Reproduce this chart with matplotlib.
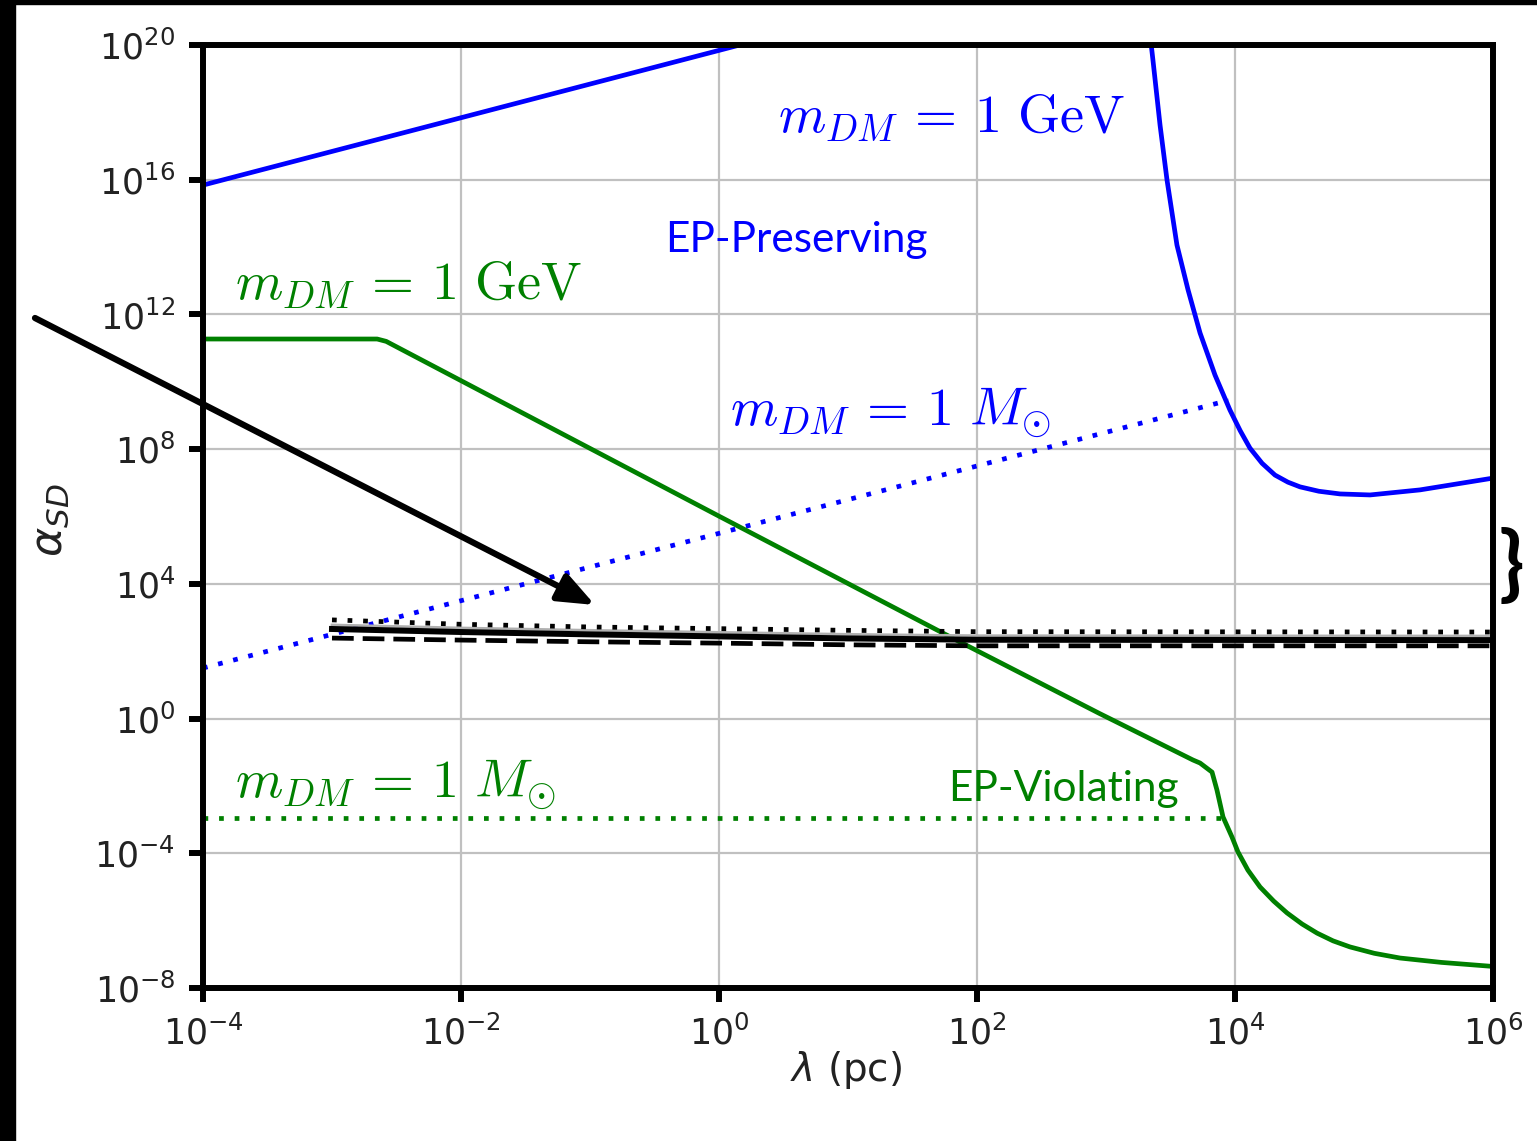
import numpy as np
import matplotlib.pyplot as plt
from matplotlib.patches import Rectangle

plt.rcParams['font.family'] = ['DejaVu Sans']
plt.rcParams['mathtext.fontset'] = 'dejavusans'

# all values are log10(lambda / pc) and log10(alpha_SD)
# EP-preserving, m_DM = 1 GeV (two branches)
pres_gev_lo_lam = [-4.0, -2.0, 0.3]
pres_gev_lo_alpha = [15.84, 17.84, 20.14]
pres_gev_hi_lam = [3.33, 3.364, 3.419, 3.473, 3.55, 3.636, 3.729, 3.845,
                   3.961, 4.04, 4.116, 4.21, 4.31, 4.41, 4.504, 4.65,
                   4.814, 5.047, 5.434, 6.0]
pres_gev_hi_alpha = [20.7, 19.55, 17.62, 15.99, 14.06, 12.73, 11.45, 10.2,
                     9.16, 8.55, 8.03, 7.58, 7.23, 7.02, 6.88, 6.75,
                     6.67, 6.64, 6.79, 7.14]
# EP-preserving, m_DM = 1 M_sun
pres_msun_lam = [-4.0, 3.95]
pres_msun_alpha = [1.5, 9.45]

# EP-violating, m_DM = 1 GeV
viol_gev_lam = [-4.0, -2.65, -2.58, 0.0, 1.85, 2.95, 3.674, 3.729, 3.822,
                3.86, 3.907, 3.977, 4.023, 4.1, 4.194, 4.3, 4.403, 4.52,
                4.636, 4.76, 4.891, 5.08, 5.279, 5.6, 6.0]
viol_gev_alpha = [11.27, 11.27, 11.2, 6.01, 2.31, 0.15, -1.23, -1.32, -1.59,
                  -2.12, -2.92, -3.52, -3.96, -4.5, -5.0, -5.42, -5.77,
                  -6.1, -6.37, -6.6, -6.78, -6.97, -7.11, -7.24, -7.36]
# EP-violating, m_DM = 1 M_sun
viol_msun_lam = [-4.0, 3.9]
viol_msun_alpha = [-2.95, -2.95]

# observational bounds (black)
bound_lam = [-3.0, -2.0, -1.0, 0.0, 1.0, 2.0, 6.0]
bound_dotted = [2.93, 2.80, 2.72, 2.67, 2.62, 2.58, 2.57]
bound_grey = [2.78, 2.69, 2.62, 2.56, 2.50, 2.46, 2.45]
bound_solid = [2.66, 2.57, 2.50, 2.44, 2.38, 2.34, 2.33]
bound_dashed = [2.39, 2.33, 2.28, 2.24, 2.19, 2.16, 2.16]

xtick_exp = [-4, -2, 0, 2, 4, 6]
ytick_exp = [-8, -4, 0, 4, 8, 12, 16, 20]

W, H = 1537, 1141


def pix(x, y):
    # image pixel (from top-left) -> figure fraction
    return x / W, 1 - y / H


def p10(v):
    return 10.0 ** np.asarray(v)


fig = plt.figure(figsize=(W / 100, H / 100), dpi=100)
ax = fig.add_axes([203 / W, 1 - 988 / H, (1493 - 203) / W, (988 - 45) / H])

blue = '#0000ff'
green = '#008000'
dots = (0, (1, 2.3))

ax.plot(p10(pres_gev_lo_lam), p10(pres_gev_lo_alpha), color=blue, lw=3.4)
ax.plot(p10(pres_gev_hi_lam), p10(pres_gev_hi_alpha), color=blue, lw=3.4)
ax.plot(p10(pres_msun_lam), p10(pres_msun_alpha), color=blue, lw=3.4,
        linestyle=dots)
ax.plot(p10(viol_gev_lam), p10(viol_gev_alpha), color=green, lw=3.4)
ax.plot(p10(viol_msun_lam), p10(viol_msun_alpha), color=green, lw=3.4,
        linestyle=dots)

ax.plot(p10(bound_lam), p10(bound_grey), color='#b0b0b0', lw=2)
ax.plot(p10(bound_lam), p10(bound_dotted), color='black', lw=3.4,
        linestyle=dots)
ax.plot(p10(bound_lam), p10(bound_solid), color='black', lw=4.3)
ax.plot(p10(bound_lam), p10(bound_dashed), color='black', lw=3.4,
        linestyle=(0, (4.6, 1.9)))

ax.set_xscale('log')
ax.set_yscale('log')
ax.set_xlim(p10(-4), p10(6))
ax.set_ylim(p10(-8), p10(20))
ax.set_xticks(p10(xtick_exp))
ax.set_yticks(p10(ytick_exp))
ax.minorticks_off()
ax.grid(True, color='#c0c0c0', lw=1.6)
ax.set_axisbelow(True)
for s in ax.spines.values():
    s.set_linewidth(4.3)
ax.tick_params(which='major', length=10, width=4.3, labelsize=25, pad=10,
               labelcolor='#222222')

# curve labels
cm = dict(math_fontfamily='cm', fontsize=39, va='baseline', ha='left')
fig.text(*pix(778, 133), r'$m_{DM} \,=\, 1\ \mathrm{GeV}$', color=blue, **cm)
fig.text(*pix(235, 300), r'$m_{DM} \,=\, 1\ \mathrm{GeV}$', color=green, **cm)
fig.text(*pix(730, 425), r'$m_{DM} \,=\, 1\ M_{\odot}$', color=blue, **cm)
fig.text(*pix(235, 797), r'$m_{DM} \,=\, 1\ M_{\odot}$', color=green, **cm)

fig.text(*pix(665, 252), 'EP-Preserving', color=blue, family='Lato',
         fontsize=30.5, va='baseline')
fig.text(*pix(948, 801), 'EP-Violating', color=green, family='Lato',
         fontsize=30.5, va='baseline')

# axis labels
fig.text(*pix(50, 520), r'$\alpha_{SD}$', rotation=90, fontsize=32,
         ha='center', va='center', color='#222222')
fig.text(*pix(846, 1070), r'$\lambda$ (pc)', fontsize=28,
         ha='center', va='center', color='#222222')

# arrow pointing at the bounds
ax.annotate('', xy=(595, H - 605), xytext=(35, H - 318),
            xycoords='figure pixels', textcoords='figure pixels',
            arrowprops=dict(arrowstyle='-|>,head_length=0.55,head_width=0.22',
                            lw=4.5, color='black', mutation_scale=40,
                            shrinkA=0, shrinkB=0),
            annotation_clip=False)

fig.text(*pix(1499, 566), '}', family='Lato', fontweight='bold',
         fontsize=60, ha='left', va='center')

# frame strips
fig.add_artist(Rectangle((0, 0), 15 / W, 1, transform=fig.transFigure,
                         color='black', zorder=10))
fig.add_artist(Rectangle((0, 1 - 4 / H), 1, 4 / H, transform=fig.transFigure,
                         color='black', zorder=10))

fig.savefig('out.png', dpi=100)
